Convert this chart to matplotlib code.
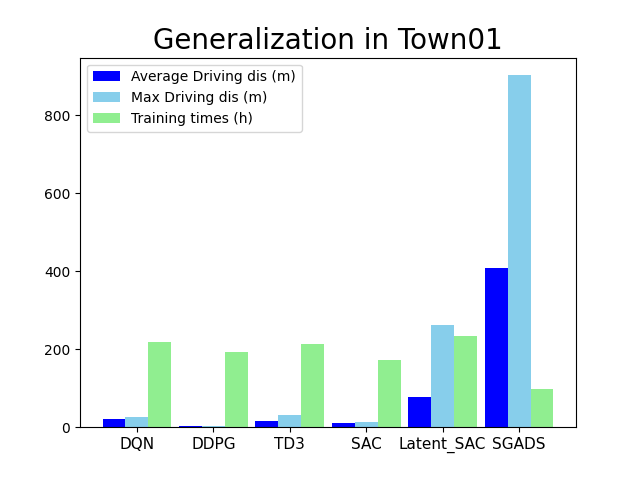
import numpy as np
import matplotlib
matplotlib.use("Agg")
import matplotlib.pyplot as plt

## algorithms compared
methods = ["DQN", "DDPG", "TD3", "SAC", "Latent_SAC", "SGADS"]
## values
avg_dis = [21, 3, 16, 11, 77, 408]
max_dis = [26, 2, 31, 13, 262, 902]
train_h = [218, 193, 213, 172, 234, 98]

width = 0.3
x = np.arange(len(methods))

plt.figure(figsize=(6.4, 4.8), dpi=100)
plt.bar(x - width, avg_dis, width, color="blue", label="Average Driving dis (m)")
plt.bar(x, max_dis, width, color="skyblue", label="Max Driving dis (m)")
plt.bar(x + width, train_h, width, color="lightgreen", label="Training times (h)")
plt.xticks(x, methods, fontsize=11)
plt.title("Generalization in Town01", fontsize=20)
plt.legend(loc="upper left")
plt.savefig("out.png")
plt.close("all")
